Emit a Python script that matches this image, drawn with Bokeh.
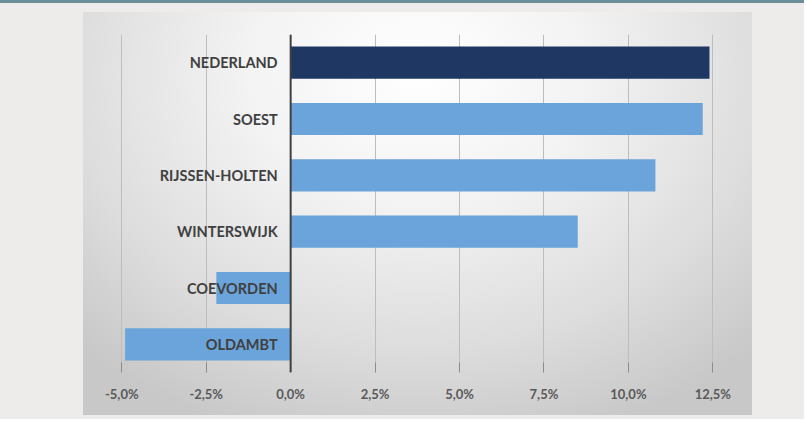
from bokeh.plotting import figure
from bokeh.models import ColumnDataSource, FactorRange, FixedTicker, Span
from bokeh.layouts import column
from bokeh.core.properties import value
from bokeh.embed import file_html
from bokeh.resources import INLINE

# ---- data ----
categories = ["NEDERLAND", "SOEST", "RIJSSEN-HOLTEN", "WINTERSWIJK", "COEVORDEN", "OLDAMBT"]
values = [12.4, 12.2, 10.8, 8.5, -2.2, -4.9]
tick_values = [-5.0, -2.5, 0.0, 2.5, 5.0, 7.5, 10.0, 12.5]
tick_labels = ["-5,0%", "-2,5%", "0,0%", "2,5%", "5,0%", "7,5%", "10,0%", "12,5%"]
highlight = "NEDERLAND"

NAVY = "#1f3763"
BLUE = "#6aa4da"
colors = [NAVY if c == highlight else BLUE for c in categories]

src = ColumnDataSource(dict(cat=categories, val=values, zero=[0] * len(values), color=colors))

p = figure(
    width=669, height=403,
    y_range=FactorRange(factors=list(reversed(categories))),
    x_range=(-5.6, 13.2),
    y_axis_location=None,
    output_backend="svg", toolbar_location=None,
    min_border_left=18, min_border_right=16, min_border_top=22, min_border_bottom=43,
)
p.margin = (12, 0, 0, 83)
p.border_fill_color = None
p.background_fill_color = None
p.outline_line_color = None
p.styles = {"background": "radial-gradient(ellipse 72% 95% at 50% 15%, #ffffff 0%, #f3f3f3 35%, #dddddd 72%, #c8c8c8 100%)"}

p.ygrid.visible = False
p.xgrid.grid_line_color = "#bdbdbd"
p.xgrid.grid_line_width = 1
p.xaxis.ticker = FixedTicker(ticks=tick_values)
p.xaxis.major_label_overrides = {t: l for t, l in zip(tick_values, tick_labels)}
p.xaxis.axis_line_color = None
p.xaxis.major_tick_in = 10
p.xaxis.major_tick_out = 0
p.xaxis.major_tick_line_color = "#8c8c8c"
p.xaxis.minor_tick_line_color = None
p.xaxis.major_label_standoff = 13
p.xaxis.major_label_text_font = "Lato"
p.xaxis.major_label_text_font_style = "bold"
p.xaxis.major_label_text_font_size = "13px"
p.xaxis.major_label_text_color = "#595959"

p.hbar(y="cat", left="zero", right="val", height=0.57, fill_color="color",
       line_color=None, source=src)

p.add_layout(Span(location=0, dimension="height", line_color="#404040", line_width=2))

p.text(x="zero", y="cat", text="cat", source=src, x_offset=-13,
       text_align="right", text_baseline="middle",
       text_font=value("Lato"), text_font_style="bold", text_font_size="14.5px",
       text_color="#404040")

layout = column(p, width=804, height=419,
                styles={"background": "linear-gradient(#6d8d9b 0px, #6d8d9b 3px, #eeebeb 3px)"})

open("out.html", "w").write(file_html(layout, INLINE))
